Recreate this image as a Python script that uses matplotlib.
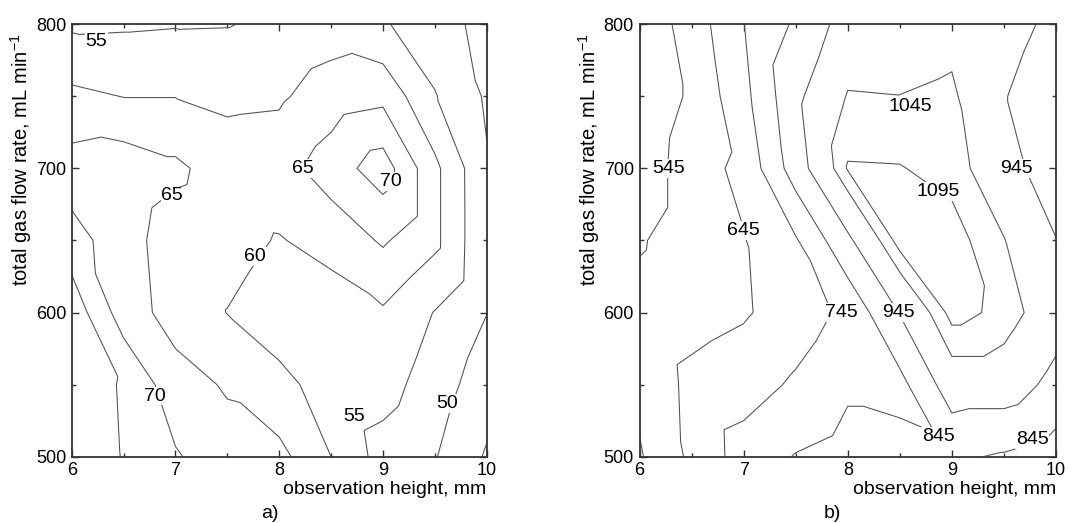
import numpy as np
import matplotlib
matplotlib.use('Agg')
import matplotlib.pyplot as plt
import matplotlib.tri as mtri

plt.rcParams['font.family'] = ['Liberation Sans', 'DejaVu Sans']
plt.rcParams['mathtext.fontset'] = 'custom'
plt.rcParams['mathtext.rm'] = 'Liberation Sans'
plt.rcParams['mathtext.it'] = 'Liberation Sans:italic'

# measurement grid
heights = [6.0, 6.5, 7.0, 7.5, 8.0, 8.5, 9.0, 9.5, 10.0]       # mm
flows = [500, 550, 600, 650, 700, 750, 800]                     # mL/min

# panel a) values, one row per flow rate (500 -> 800)
a_500 = [78.0, 74.8, 70.5, 67.0, 66.5, 60.0, 53.0, 50.3, 44.5]
a_550 = [77.5, 74.6, 67.0, 64.5, 61.0, 58.5, 57.0, 52.5, 47.2]
a_600 = [78.2, 67.5, 63.0, 59.9, 58.0, 57.5, 59.4, 54.8, 50.1]
a_650 = [72.1, 67.0, 62.5, 61.5, 59.7, 61.7, 65.6, 61.2, 50.5]
a_700 = [67.1, 68.0, 66.0, 62.5, 63.0, 67.5, 72.5, 61.2, 50.4]
a_750 = [61.1, 59.9, 59.9, 59.0, 59.3, 62.5, 63.7, 55.3, 49.4]
a_800 = [54.2, 54.4, 54.7, 54.8, 56.0, 57.5, 55.5, 52.1, 48.5]
a_levels = [45, 50, 55, 60, 65, 70, 75]

# panel b) values
b_500 = [535, 665, 790, 850, 880, 880, 860, 835, 800]
b_550 = [570, 670, 700, 760, 830, 815, 1000, 1000, 915]
b_600 = [580, 610, 635, 690, 770, 950, 1115, 1080, 990]
b_650 = [535, 600, 640, 735, 925, 1120, 1120, 1048, 948]
b_700 = [480, 600, 670, 895, 1100, 1098, 1075, 990, 880]
b_750 = [470, 560, 715, 925, 1050, 1046, 1058, 950, 880]
b_800 = [470, 590, 742, 860, 990, 1005, 1020, 985, 920]
b_levels = [545, 645, 745, 845, 945, 1045, 1095]

# where the labels go
a_label_pos = [(6.24, 788), (6.97, 681), (8.23, 700), (9.08, 691), (7.77, 639),
               (6.8, 542), (8.72, 528), (9.62, 537)]
b_label_pos = [(6.28, 700), (7.0, 657), (7.94, 600), (8.49, 600), (8.6, 743),
               (8.87, 684), (9.62, 700), (8.87, 514), (9.77, 512)]


def grid_triangles(nx, ny):
    # split each cell along the top-left -> bottom-right diagonal
    tris = []
    for j in range(ny - 1):
        for i in range(nx - 1):
            bl = j * nx + i
            br = bl + 1
            tl = bl + nx
            tr = tl + 1
            tris.append([tl, bl, br])
            tris.append([tl, br, tr])
    return tris


X, Y = np.meshgrid(heights, flows)
tri = mtri.Triangulation(X.ravel(), Y.ravel(), grid_triangles(len(heights), len(flows)))

Za = np.array([a_500, a_550, a_600, a_650, a_700, a_750, a_800])
Zb = np.array([b_500, b_550, b_600, b_650, b_700, b_750, b_800])

fig = plt.figure(figsize=(10.87, 5.23), dpi=100)
W, H = 1087, 523
ax_a = fig.add_axes([71.7 / W, 1 - 456.7 / H, 415 / W, 432.4 / H])
ax_b = fig.add_axes([639.5 / W, 1 - 456.7 / H, 416.5 / W, 432.4 / H])

for ax, Z, levels, pos, tag, tag_x in [(ax_a, Za, a_levels, a_label_pos, 'a)', 270),
                                       (ax_b, Zb, b_levels, b_label_pos, 'b)', 832)]:
    ax.set_xlim(6, 10)
    ax.set_ylim(500, 800)
    cs = ax.tricontour(tri, Z.ravel(), levels=levels, colors='#505050', linewidths=0.75)
    labels = ax.clabel(cs, manual=pos, inline=False, fmt='%d', fontsize=14, colors='black')
    # upright labels sitting in a small white gap
    for t, p in zip(labels, pos):
        t.set_position(p)
        t.set_rotation(0)
        t.set_bbox(dict(facecolor='white', edgecolor='none', pad=0.5))

    ax.set_xticks([6, 7, 8, 9, 10])
    ax.set_xticks(np.arange(6.5, 10, 1.0), minor=True)
    ax.set_yticks([500, 600, 700, 800])
    ax.set_yticks([550, 650, 750], minor=True)
    ax.tick_params(which='both', direction='in', top=True, right=True,
                   labelsize=13, color='#333333', width=1.0, pad=4)
    ax.tick_params(which='major', length=5)
    ax.tick_params(which='minor', length=3)
    for sp in ax.spines.values():
        sp.set_linewidth(1.3)
        sp.set_color('#333333')

    ax.set_xlabel('observation height, mm', fontsize=14, loc='right', labelpad=1)
    ax.set_ylabel('total gas flow rate, mL min$^{-1}$', fontsize=14.5, loc='top')
    ax.yaxis.set_label_coords(-0.09, 0.98)
    fig.text(tag_x / W, 1 - 513 / H, tag, fontsize=14, ha='center', va='center')

fig.savefig('out.png', dpi=100)
